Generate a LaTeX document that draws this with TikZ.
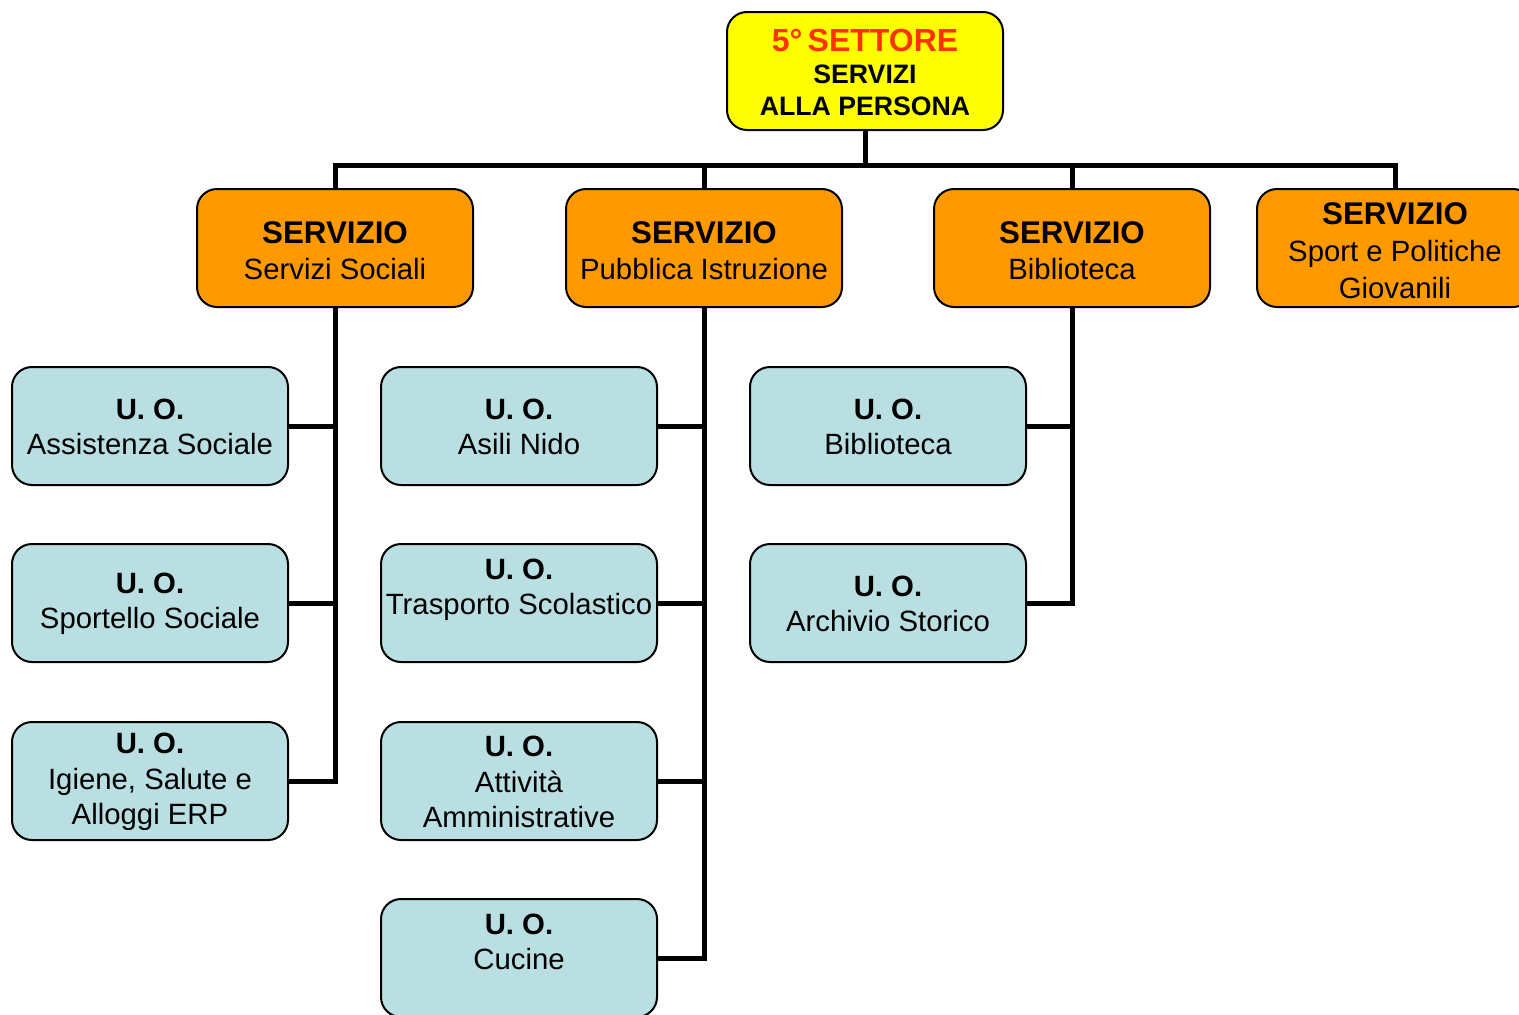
\documentclass[tikz,border=0pt]{standalone}
\usepackage{fontspec}
\setmainfont{Liberation Sans}
\definecolor{topyellow}{HTML}{FFFF00}
\definecolor{servorange}{HTML}{FF9900}
\definecolor{uoblue}{HTML}{B9DFE2}
\definecolor{titlered}{HTML}{FF3300}
\tikzset{
  box/.style={draw=black, line width=1.5pt, rounded corners=15pt, minimum width=207pt,
    minimum height=88.5pt, inner sep=0pt, align=center, text=black},
  topbox/.style={box, fill=topyellow, font=\fontsize{20}{24}\selectfont\bfseries},
  servbox/.style={box, fill=servorange, font=\fontsize{22}{27.5}\selectfont},
  uobox/.style={box, fill=uoblue, font=\fontsize{22}{26.5}\selectfont},
  conn/.style={line width=3.75pt, draw=black},
}
\newcommand{\srv}{\rule{0pt}{20.4pt}{\fontsize{23.5}{27.5}\selectfont\bfseries SERVIZIO}}
\newcommand{\uo}{\rule{0pt}{17pt}{\bfseries U. O.}}
\newcommand{\ttl}{\rule{0pt}{19.5pt}{\fontsize{24}{24}\selectfont\color{titlered}5°\,SETTORE}}
\begin{document}
\begin{tikzpicture}[x=0.75pt, y=-0.75pt]
\useasboundingbox (0,0) rectangle (1519,1014);
\clip (0,0) rectangle (1519,1014);
% top
\node[topbox] (top) at (865,71) {\ttl\\SERVIZI\\ALLA PERSONA};
% services
\node[servbox] (s1) at (335,248) {\srv\\Servizi Sociali};
\node[servbox] (s2) at (704,248) {\srv\\Pubblica Istruzione};
\node[servbox] (s3) at (1072,248) {\srv\\Biblioteca};
\node[servbox] (s4) at (1395,248) {\srv\\Sport e Politiche\\Giovanili};
% units column 1
\node[uobox] (a1) at (150,426) {\uo\\Assistenza Sociale};
\node[uobox] (a2) at (150,603) {\uo\\Sportello Sociale};
\node[uobox] (a3) at (150,781) {\uo\\Igiene, Salute e\\Alloggi ERP};
% column 2
\node[uobox] (b1) at (519,426) {\uo\\Asili Nido};
\node[uobox] (b2) at (519,603) {\uo\\Trasporto Scolastico\\\mbox{}};
\node[uobox] (b3) at (519,781) {\uo\\Attività\\Amministrative};
\node[uobox] (b4) at (519,958) {\uo\\Cucine\\\mbox{}};
% column 3
\node[uobox] (c1) at (888,426) {\uo\\Biblioteca};
\node[uobox] (c2) at (888,603) {\uo\\Archivio Storico};
% connectors top
\coordinate (bar) at (865,165);
\draw[conn] (top.south) -- (bar);
\draw[conn] (s1.north) -- (s1.north |- bar) -- (s4.north |- bar) -- (s4.north);
\draw[conn] (s2.north) -- (s2.north |- bar);
\draw[conn] (s3.north) -- (s3.north |- bar);
% connectors column 1
\draw[conn] (s1.south) |- (a3.east);
\draw[conn] (a1.east) -- (a1.east -| s1.south);
\draw[conn] (a2.east) -- (a2.east -| s1.south);
% column 2
\draw[conn] (s2.south) |- (b4.east);
\draw[conn] (b1.east) -- (b1.east -| s2.south);
\draw[conn] (b2.east) -- (b2.east -| s2.south);
\draw[conn] (b3.east) -- (b3.east -| s2.south);
% column 3
\draw[conn] (s3.south) |- (c2.east);
\draw[conn] (c1.east) -- (c1.east -| s3.south);
\end{tikzpicture}
\end{document}
